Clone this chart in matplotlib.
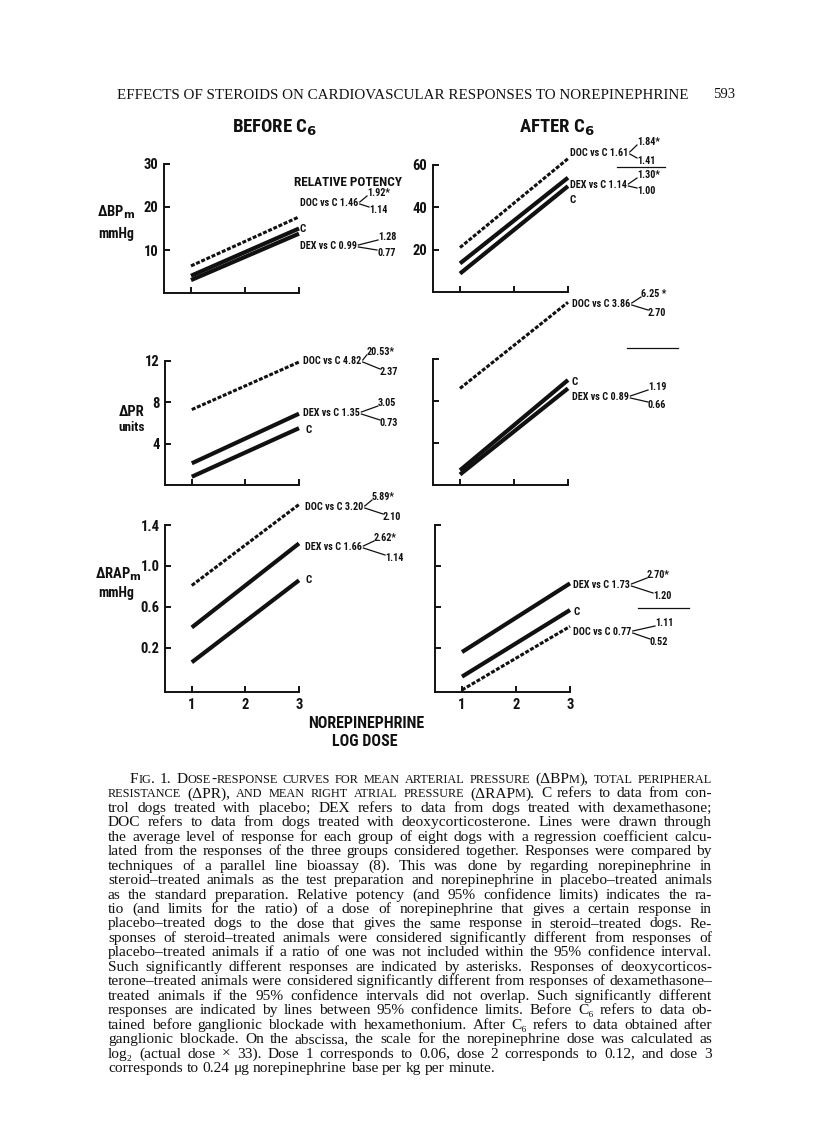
import matplotlib
matplotlib.use("Agg")
import matplotlib.pyplot as plt
from matplotlib import font_manager
from matplotlib.lines import Line2D

W, H = 816, 1137

_names = {f.name for f in font_manager.fontManager.ttflist}
SANS = [n for n in ("Liberation Sans Narrow", "DejaVu Sans Condensed", "Roboto Condensed")
        if n in _names] + ["DejaVu Sans"]
SERIF = ["Liberation Serif", "DejaVu Serif"]
INK = "#111111"

# norepinephrine log dose (line end points)
dose = [1, 3]

# response at dose 1 and dose 3
bp_before = {"C": [4.0, 15.0], "DEX": [3.0, 13.8], "DOC": [6.3, 17.7]}
bp_after = {"C": [8.7, 50.0], "DEX": [13.5, 54.0], "DOC": [21.0, 63.0]}
pr_before = {"C": [0.8, 5.5], "DEX": [2.1, 6.9], "DOC": [7.3, 11.9]}
pr_after = {"C": [1.4, 10.0], "DEX": [1.0, 9.2], "DOC": [9.2, 17.4]}
rap_before = {"C": [0.06, 0.86], "DEX": [0.40, 1.22], "DOC": [0.81, 1.60]}
rap_after = {"C": [-0.08, 0.57], "DEX": [0.16, 0.83], "DOC": [-0.21, 0.41]}

bp_ticks = [10, 20, 30]
bp_after_ticks = [20, 40, 60]
pr_ticks = [4, 8, 12]
rap_ticks = [0.2, 0.6, 1.0, 1.4]
rap_labels = ["0.2", "0.6", "1.0", "1.4"]
dose_ticks = [1, 2, 3]

# relative potency (estimate, upper and lower 95% limits)
pot_bp_before = [("DOC vs C", "1.46", "1.92*", "1.14"), ("DEX vs C", "0.99", "1.28", "0.77")]
pot_bp_after = [("DOC vs C", "1.61", "1.84*", "1.41"), ("DEX vs C", "1.14", "1.30*", "1.00")]
pot_pr_before = [("DOC vs C", "4.82", "20.53*", "2.37"), ("DEX vs C", "1.35", "3.05", "0.73")]
pot_pr_after = [("DOC vs C", "3.86", "6.25 *", "2.70"), ("DEX vs C", "0.89", "1.19", "0.66")]
pot_rap_before = [("DOC vs C", "3.20", "5.89*", "2.10"), ("DEX vs C", "1.66", "2.62*", "1.14")]
pot_rap_after = [("DEX vs C", "1.73", "2.70*", "1.20"), ("DOC vs C", "0.77", "1.11", "0.52")]

CAPTION = [
    "Fig. 1. Dose-response curves for mean arterial pressure (ΔBPm), total peripheral",
    "resistance (ΔPR), and mean right atrial pressure (ΔRAPm). C refers to data from con-",
    "trol dogs treated with placebo; DEX refers to data from dogs treated with dexamethasone;",
    "DOC refers to data from dogs treated with deoxycorticosterone. Lines were drawn through",
    "the average level of response for each group of eight dogs with a regression coefficient calcu-",
    "lated from the responses of the three groups considered together. Responses were compared by",
    "techniques of a parallel line bioassay (8). This was done by regarding norepinephrine in",
    "steroid–treated animals as the test preparation and norepinephrine in placebo–treated animals",
    "as the standard preparation. Relative potency (and 95% confidence limits) indicates the ra-",
    "tio (and limits for the ratio) of a dose of norepinephrine that gives a certain response in",
    "placebo–treated dogs to the dose that gives the same response in steroid–treated dogs. Re-",
    "sponses of steroid–treated animals were considered significantly different from responses of",
    "placebo–treated animals if a ratio of one was not included within the 95% confidence interval.",
    "Such significantly different responses are indicated by asterisks. Responses of deoxycorticos-",
    "terone–treated animals were considered significantly different from responses of dexamethasone–",
    "treated animals if the 95% confidence intervals did not overlap. Such significantly different",
    "responses are indicated by lines between 95% confidence limits. Before C₆ refers to data ob-",
    "tained before ganglionic blockade with hexamethonium. After C₆ refers to data obtained after",
    "ganglionic blockade. On the abscissa, the scale for the norepinephrine dose was calculated as",
    "log₂ (actual dose × 33). Dose 1 corresponds to 0.06, dose 2 corresponds to 0.12, and dose 3",
    "corresponds to 0.24 μg norepinephrine base per kg per minute.",
]

fig = plt.figure(figsize=(W / 100, H / 100), dpi=100)
fig.patch.set_facecolor("white")
rend = fig.canvas.get_renderer()


def fx(x):
    return x / W


def fy(y):
    return 1 - y / H


def ptext(x, y, s, size=8, family=SANS, weight="bold", **kw):
    kw.setdefault("va", "center")
    return fig.text(fx(x), fy(y), s, fontsize=size, family=family, weight=weight,
                    color=INK, **kw)


def pline(x0, y0, x1, y1, lw=0.9):
    fig.add_artist(Line2D([fx(x0), fx(x1)], [fy(y0), fy(y1)], transform=fig.transFigure,
                          color=INK, lw=lw))


def width_of(s, size, family, weight="normal"):
    t = fig.text(0, 0, s, fontsize=size, family=family, weight=weight)
    w = t.get_window_extent(renderer=rend).width
    t.remove()
    return w


def make_axes(left, top, right, bottom, ylim, yticks, ylabels, xlabels):
    ax = fig.add_axes([fx(left), fy(bottom), fx(right - left), (bottom - top) / H])
    ax.set_xlim(0.5, 3)
    ax.set_ylim(*ylim)
    ax.patch.set_alpha(0)
    for s in ("top", "right"):
        ax.spines[s].set_visible(False)
    for s in ("left", "bottom"):
        ax.spines[s].set_linewidth(1.4)
        ax.spines[s].set_color(INK)
    ax.set_xticks(dose_ticks)
    ax.set_yticks(yticks)
    ax.tick_params(direction="in", length=4.5, width=1.4, pad=4, labelsize=10.5,
                   colors=INK)
    ax.set_xticklabels([str(d) for d in dose_ticks] if xlabels else [])
    ax.set_yticklabels(ylabels if ylabels else [])
    for lab in ax.get_xticklabels() + ax.get_yticklabels():
        lab.set_family(SANS)
        lab.set_weight("bold")
    return ax


def draw_lines(ax, data):
    for name in ("C", "DEX"):
        ax.plot(dose, data[name], color=INK, lw=3.0, solid_capstyle="butt", clip_on=False)
    ax.plot(dose, data["DOC"], color=INK, lw=2.2, linestyle=(0, (1.3, 0.55)),
            dash_capstyle="butt", clip_on=False)


def potency(entry, x, y, hi_xy, lo_xy, size=7.3):
    label, mid, hi, lo = entry
    t = ptext(x, y, f"{label} {mid}", size=size)
    bb = t.get_window_extent(renderer=rend)
    xe = bb.x1 + 1.5
    hx = max(hi_xy[0], xe + 4)
    lx = max(lo_xy[0], xe + 4)
    ptext(hx, hi_xy[1], hi, size=size)
    ptext(lx, lo_xy[1], lo, size=size)
    pline(xe, y - 1, hx, hi_xy[1] + 3)
    pline(xe, y + 1, lx, lo_xy[1] - 3)


# ---- panels ----
ax_tl = make_axes(164, 164, 299, 293, (0, 30), bp_ticks, [str(v) for v in bp_ticks], False)
ax_tr = make_axes(433, 165, 568, 292, (0, 60), bp_after_ticks, [str(v) for v in bp_after_ticks], False)
ax_ml = make_axes(165, 361, 299, 485, (0, 12), pr_ticks, [str(v) for v in pr_ticks], False)
ax_mr = make_axes(433, 359, 568, 485, (0, 12), pr_ticks, None, False)
ax_bl = make_axes(165, 525, 299, 692, (-0.23, 1.4), rap_ticks, rap_labels, True)
ax_br = make_axes(435, 525, 570, 692, (-0.23, 1.4), rap_ticks, None, True)

draw_lines(ax_tl, bp_before)
draw_lines(ax_tr, bp_after)
draw_lines(ax_ml, pr_before)
draw_lines(ax_mr, pr_after)
draw_lines(ax_bl, rap_before)
draw_lines(ax_br, rap_after)

# ---- titles and axis labels ----
ptext(232, 128, r"BEFORE C$_\mathbf{6}$", size=13.5)
ptext(519, 128, r"AFTER C$_\mathbf{6}$", size=13.5)
ptext(116, 212, r"ΔBP$_\mathbf{m}$", size=10.5, ha="center")
ptext(116, 234, "mmHg", size=10, ha="center")
ptext(132, 412, "ΔPR", size=10.5, ha="center")
ptext(132, 427, "units", size=9.5, ha="center")
ptext(118, 574, r"ΔRAP$_\mathbf{m}$", size=10.5, ha="center")
ptext(116, 593, "mmHg", size=10, ha="center")
ptext(366, 723, "NOREPINEPHRINE", size=11.5, ha="center")
ptext(365, 741, "LOG DOSE", size=11.5, ha="center")

# ---- relative potency annotations ----
ptext(294, 183, "RELATIVE POTENCY", size=9.5)
potency(pot_bp_before[0], 300, 203, (367, 193), (369, 210))
ptext(300, 229, "C", size=7.8)
potency(pot_bp_before[1], 300, 246, (378, 237), (377, 253))

potency(pot_bp_after[0], 570, 153, (637, 142), (637, 161))
pline(617, 167, 665, 167)
potency(pot_bp_after[1], 570, 185, (637, 175), (637, 191))
ptext(570, 200, "C", size=7.8)

potency(pot_pr_before[0], 303, 361, (364, 352), (380, 372))
potency(pot_pr_before[1], 303, 413, (378, 403), (380, 423))
ptext(305, 430, "C", size=7.8)

potency(pot_pr_after[0], 572, 304, (641, 294), (648, 313))
pline(627, 348, 678, 348)
ptext(572, 382, "C", size=7.8)
potency(pot_pr_after[1], 572, 397, (648, 387), (648, 405))

potency(pot_rap_before[0], 305, 507, (372, 497), (383, 517))
potency(pot_rap_before[1], 305, 547, (374, 538), (385, 558))
ptext(305, 580, "C", size=7.8)

potency(pot_rap_after[0], 573, 585, (647, 575), (653, 596))
pline(638, 608, 689, 608)
ptext(573, 612, "C", size=7.8)
potency(pot_rap_after[1], 573, 632, (655, 623), (650, 642))

# ---- running head ----
head = "EFFECTS OF STEROIDS ON CARDIOVASCULAR RESPONSES TO NOREPINEPHRINE"
hsize = 10 * 573 / width_of(head, 10, SERIF)
ptext(117, 99, head, size=hsize, family=SERIF, weight="normal", va="baseline")
ptext(735, 98, "593", size=10.5, family=SERIF, weight="normal", va="baseline", ha="right")


# ---- caption, justified, with small caps at the start ----
def word_runs(word, smallcaps):
    if not smallcaps:
        return [(word, 1.0)]
    runs = []
    for ch in word:
        sc = 0.8 if ch.islower() else 1.0
        if runs and runs[-1][1] == sc:
            runs[-1] = (runs[-1][0] + ch.upper(), sc)
        else:
            runs.append((ch.upper(), sc))
    return runs


cap_lines = []
small = True
for line in CAPTION:
    words = []
    for w in line.split(" "):
        words.append(word_runs(w, small))
        if w == "(ΔRAPm).":
            small = False
    cap_lines.append(words)

left_x, right_x, first_y, step = 108, 712, 783, 14.45
starts = [130] + [left_x] * (len(cap_lines) - 1)


def line_widths(words, size):
    return [sum(width_of(s, size * k, SERIF) for s, k in wd) for wd in words]


base = 10
space0 = width_of("a a", base, SERIF) - width_of("aa", base, SERIF)
ratio = 10.0
for i, words in enumerate(cap_lines[:-1]):
    nat = sum(line_widths(words, base)) + space0 * (len(words) - 1)
    ratio = min(ratio, (right_x - starts[i]) / nat)
csize = base * ratio * 0.995
space = space0 * ratio

for i, words in enumerate(cap_lines):
    ws = line_widths(words, csize)
    if i < len(cap_lines) - 1:
        gap = (right_x - starts[i] - sum(ws)) / (len(words) - 1)
    else:
        gap = space
    x = starts[i]
    y = first_y + i * step
    for wd, wdw in zip(words, ws):
        xx = x
        for s, k in wd:
            ptext(xx, y, s, size=csize * k, family=SERIF, weight="normal", va="baseline")
            xx += width_of(s, csize * k, SERIF)
        x += wdw + gap

fig.savefig("out.png", dpi=100, facecolor="white")
